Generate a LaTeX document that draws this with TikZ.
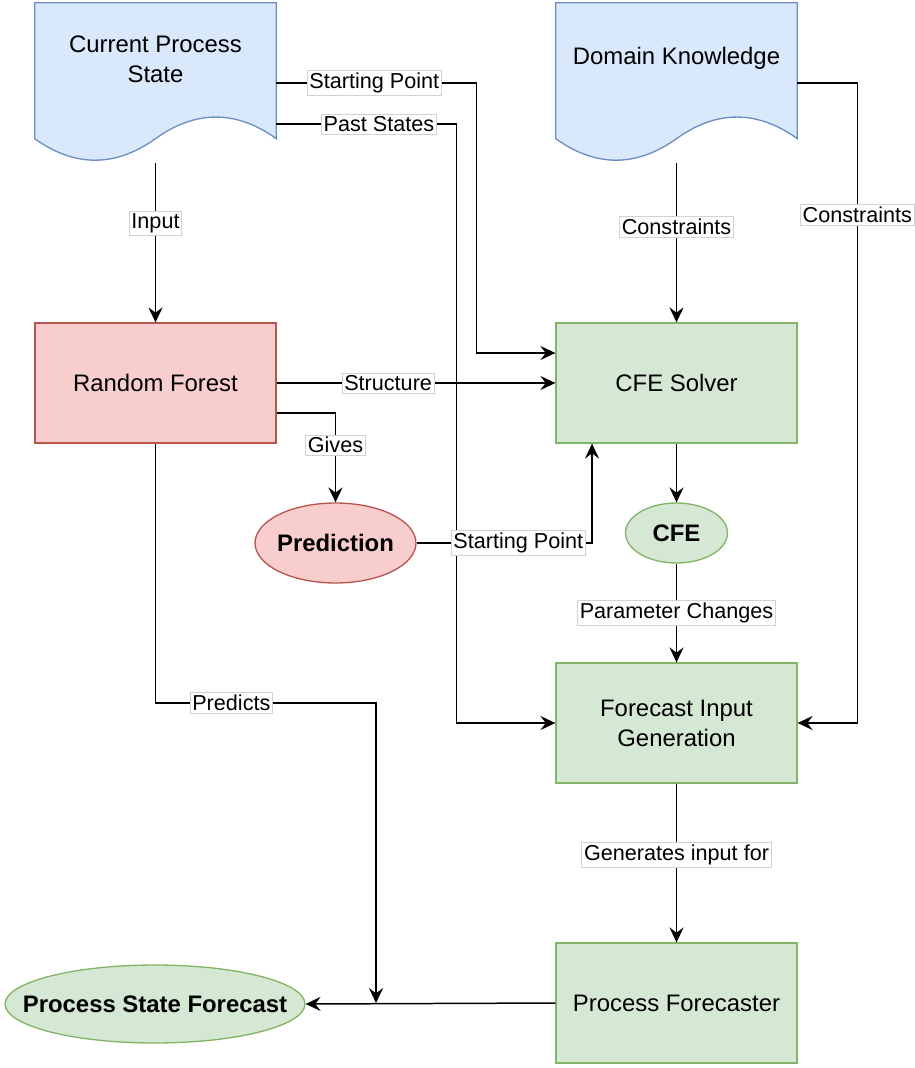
\documentclass[tikz,border=0pt]{standalone}
\usepackage{fontspec}
\setmainfont{Liberation Sans}
\usetikzlibrary{calc}
\usetikzlibrary{arrows.meta}
\usetikzlibrary{shapes.geometric}

\definecolor{docfill}{HTML}{DAE8FC}
\definecolor{docline}{HTML}{6C8EBF}
\definecolor{rffill}{HTML}{F8CECC}
\definecolor{rfline}{HTML}{B85450}
\definecolor{okfill}{HTML}{D5E8D4}
\definecolor{okline}{HTML}{82B366}

\tikzset{
 nodefont/.style={font=\fontsize{13.6}{17}\selectfont},
 frame/.style={rectangle, minimum width=4.82cm, minimum height=3.2cm, inner sep=0},
 doc/.style={fill=docfill, draw=docline, line width=0.75pt},
 block/.style={nodefont, rectangle, minimum width=4.82cm, minimum height=2.4cm, line width=0.75pt, align=center},
 rfblock/.style={block, fill=rffill, draw=rfline},
 okblock/.style={block, fill=okfill, draw=okline},
 oval/.style={nodefont, ellipse, inner sep=0, line width=0.75pt},
 lbl/.style={fill=white, draw=gray!35, line width=0.4pt, inner sep=1.3pt, font=\fontsize{12.3}{14}\selectfont},
 arr/.style={draw, line width=0.85pt, -{Stealth[length=8.5pt,width=8pt,inset=3pt]}},
}
\newcommand\ovaltext[1]{\makebox[0pt]{\bfseries #1}}
\newcommand\docpath[1]{%
 \filldraw[doc] (#1.north west) -- (#1.north east) -- ($(#1.north east)+(0,136)$)
  .. controls +(-40.2,-28.8) and +(40.2,-28.8) .. ($(#1.north)+(0,136)$)
  .. controls +(-40.2,28.7) and +(40.2,28.7) .. ($(#1.north west)+(0,136)$) -- cycle;}

\begin{document}
\begin{tikzpicture}[x=0.02cm, y=-0.02cm]
\useasboundingbox (0,0) rectangle (914,1068);

\node[frame] (cps) at (155.5,83) {};
\docpath{cps}
\node[nodefont, align=center] (cpstext) at (155.5,59) {Current Process\\State};
\node[frame] (dk) at (676.5,83) {};
\docpath{dk}
\node[nodefont] (dktext) at (676.5,58) {Domain Knowledge};

\node[rfblock] (rf) at (155.5,383) {Random Forest};
\node[okblock] (solver) at (676.5,383) {CFE Solver};
\node[okblock] (fig) at (676.5,723) {Forecast Input\\Generation};
\node[okblock] (pf) at (676.5,1003) {Process Forecaster};
\node[oval, fill=rffill, draw=rfline, minimum width=3.22cm, minimum height=1.6cm] (pred) at (335.5,543) {\ovaltext{Prediction}};
\node[oval, fill=okfill, draw=okline, minimum width=2.04cm, minimum height=1.2cm] (cfe) at (676.5,533) {\ovaltext{CFE}};
\node[oval, fill=okfill, draw=okline, minimum width=6cm, minimum height=1.56cm] (psf) at (155,1004) {\ovaltext{Process State Forecast}};
\coordinate (mrg) at (376,1003);

\draw[arr] (cps.south) -- node[lbl, pos=0.375] {Input} (rf.north);
\draw[arr] (cps.east) -- node[lbl, pos=0.49] {Starting Point} ++(200,0) |- ([yshift=0.6cm]solver.west);
\draw[arr] ($(cps.east)+(0,41)$) -- node[lbl, pos=0.57] {Past States} ++(180,0) |- (fig.west);
\draw[arr] (rf.east) -- node[lbl, pos=0.4] {Structure} (solver.west);
\draw[arr] ([yshift=-0.6cm]rf.east) -| node[lbl, pos=0.68] {Gives} (pred.north);
\draw[arr] (pred.east) -| node[lbl, pos=0.29] {Starting Point} ([xshift=-1.69cm]solver.south);
\draw[arr] (dk.south) -- node[lbl, pos=0.4] {Constraints} (solver.north);
\draw[arr] (dk.east) -- ++(60,0) |- node[lbl, pos=0.103] {Constraints} (fig.east);
\draw[arr] (solver.south) -- (cfe.north);
\draw[arr] (cfe.south) -- node[lbl] {Parameter Changes} (fig.north);
\draw[arr] (fig.south) -- node[lbl, pos=0.45] {Generates input for} (pf.north);
\draw[arr] (pf.west) -- (psf.east);
\draw[arr] (rf.south) |- node[lbl, pos=0.672] {Predicts} ($(mrg)+(0,-300)$) -- (mrg);
\end{tikzpicture}
\end{document}
